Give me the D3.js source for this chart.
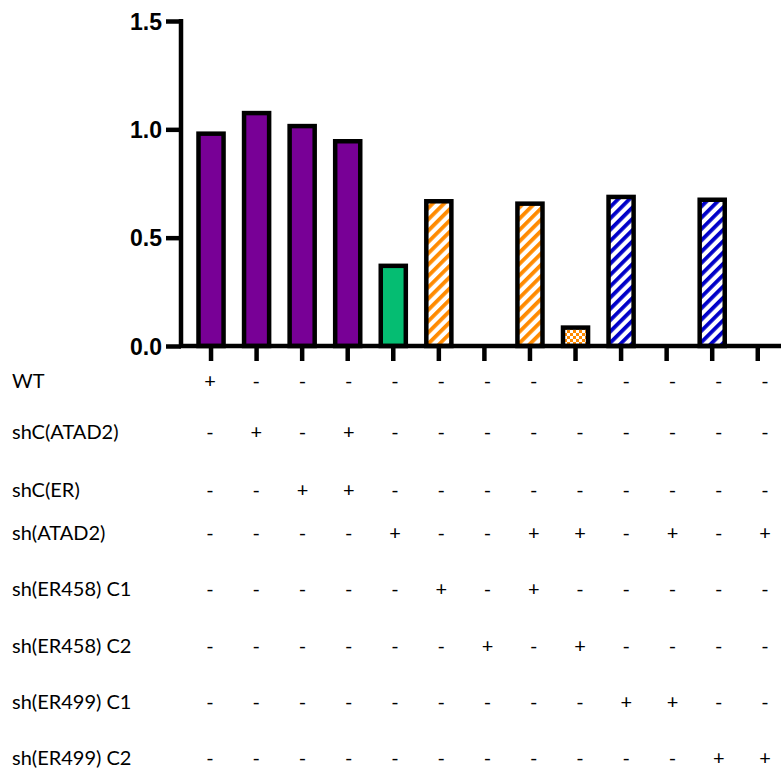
<!DOCTYPE html>
<html>
<head>
<meta charset="utf-8">
<script src="https://cdn.jsdelivr.net/npm/d3@7"></script>
<style>
  html, body { margin: 0; padding: 0; background: #fff; }
  svg { display: block; }
</style>
</head>
<body>
<script>
// Relative signal per condition (13 samples)
const samples = ["S1","S2","S3","S4","S5","S6","S7","S8","S9","S10","S11","S12","S13"];
const values = [0.98, 1.075, 1.015, 0.945, 0.37, 0.668, 0, 0.657, 0.085, 0.688, 0, 0.675, 0];
const groups = ["control","control","control","control","shATAD2",
                "ER458 C1","ER458 C2","ER458 C1","ER458 C2",
                "ER499 C1","ER499 C1","ER499 C2","ER499 C2"];

// Treatment matrix shown under the bars
const conditions = ["WT","shC(ATAD2)","shC(ER)","sh(ATAD2)","sh(ER458) C1","sh(ER458) C2","sh(ER499) C1","sh(ER499) C2"];
const matrix = [
  ["+","-","-","-","-","-","-","-","-","-","-","-","-"],
  ["-","+","-","+","-","-","-","-","-","-","-","-","-"],
  ["-","-","+","+","-","-","-","-","-","-","-","-","-"],
  ["-","-","-","-","+","-","-","+","+","-","+","-","+"],
  ["-","-","-","-","-","+","-","+","-","-","-","-","-"],
  ["-","-","-","-","-","-","+","-","+","-","-","-","-"],
  ["-","-","-","-","-","-","-","-","-","+","+","-","-"],
  ["-","-","-","-","-","-","-","-","-","-","-","+","+"]
];
const yTicks = [0, 0.5, 1.0, 1.5];

const W = 781, H = 774;
const svg = d3.select("body").append("svg").attr("width", W).attr("height", H);
svg.append("rect").attr("width", W).attr("height", H).attr("fill", "#fff");

const defs = svg.append("defs");
function stripes(id, color) {
  const p = defs.append("pattern").attr("id", id)
    .attr("patternUnits", "userSpaceOnUse")
    .attr("width", 8).attr("height", 8)
    .attr("patternTransform", "rotate(45)");
  p.append("rect").attr("width", 8).attr("height", 8).attr("fill", "#fff");
  p.append("rect").attr("width", 3.8).attr("height", 8).attr("fill", color);
}
stripes("stripeOrange", "#ff8a00");
stripes("stripeBlue", "#0000c8");
const chk = defs.append("pattern").attr("id", "checkOrange")
  .attr("patternUnits", "userSpaceOnUse").attr("width", 6).attr("height", 6);
chk.append("rect").attr("width", 6).attr("height", 6).attr("fill", "#ff8a00");
chk.append("rect").attr("width", 3).attr("height", 3).attr("fill", "#fff");
chk.append("rect").attr("x", 3).attr("y", 3).attr("width", 3).attr("height", 3).attr("fill", "#fff");

const fill = d3.scaleOrdinal()
  .domain(["control","shATAD2","ER458 C1","ER458 C2","ER499 C1","ER499 C2"])
  .range(["#780096","#05bd72","url(#stripeOrange)","url(#checkOrange)","url(#stripeBlue)","url(#stripeBlue)"]);

const axisX = 181, baseY = 346, topY = 21;
const x = d3.scaleBand().domain(samples).range([178, 790.8]).paddingInner(0.45).paddingOuter(0.45);
const y = d3.scaleLinear().domain([0, 1.5]).range([baseY, topY]);

// Bars
svg.append("g").selectAll("rect")
  .data(samples.map((s, i) => ({s, v: values[i], g: groups[i]})).filter(d => d.v > 0))
  .join("rect")
  .attr("x", d => x(d.s))
  .attr("y", d => y(d.v))
  .attr("width", x.bandwidth())
  .attr("height", d => y(0) - y(d.v))
  .attr("fill", d => fill(d.g))
  .attr("stroke", "#000")
  .attr("stroke-width", 4.5);

// X axis (baseline with ticks)
const gx = svg.append("g").attr("transform", `translate(0,${baseY})`)
  .call(d3.axisBottom(x).tickSize(15).tickSizeOuter(0).tickFormat(""));
gx.select(".domain").attr("stroke-width", 4.5).attr("d", `M${axisX - 2},0H${W + 20}`);
gx.selectAll(".tick line").attr("stroke-width", 4.5);

// Y axis
const gy = svg.append("g").attr("transform", `translate(${axisX},0)`)
  .call(d3.axisLeft(y).tickValues(yTicks).tickFormat(d3.format(".1f")).tickSize(15).tickSizeOuter(0).tickPadding(4));
gy.select(".domain").attr("stroke-width", 4.5).attr("d", `M0,${topY - 2}V${baseY + 2}`);
gy.selectAll(".tick line").attr("stroke-width", 4.5);
gy.selectAll(".tick text")
  .attr("font-family", "'Liberation Sans', Arial, sans-serif")
  .attr("font-weight", "bold").attr("font-size", 23).attr("fill", "#000")
  .attr("dy", "0.36em");

// Treatment table
const rowY = [388, 439, 497, 540, 596, 653, 709, 765];
const col = d3.scalePoint().domain(samples).range([210, 765]);
const table = svg.append("g")
  .attr("font-family", "Lato, 'Open Sans', sans-serif")
  .attr("fill", "#000");
conditions.forEach((c, r) => {
  table.append("text").attr("x", 12).attr("y", rowY[r])
    .attr("font-size", 20).text(c);
  table.selectAll(null).data(matrix[r]).join("text")
    .attr("x", (d, i) => col(samples[i]))
    .attr("y", rowY[r])
    .attr("text-anchor", "middle")
    .attr("font-size", 20)
    .attr("fill", "#000")
    .text(d => d);
});
</script>
</body>
</html>
